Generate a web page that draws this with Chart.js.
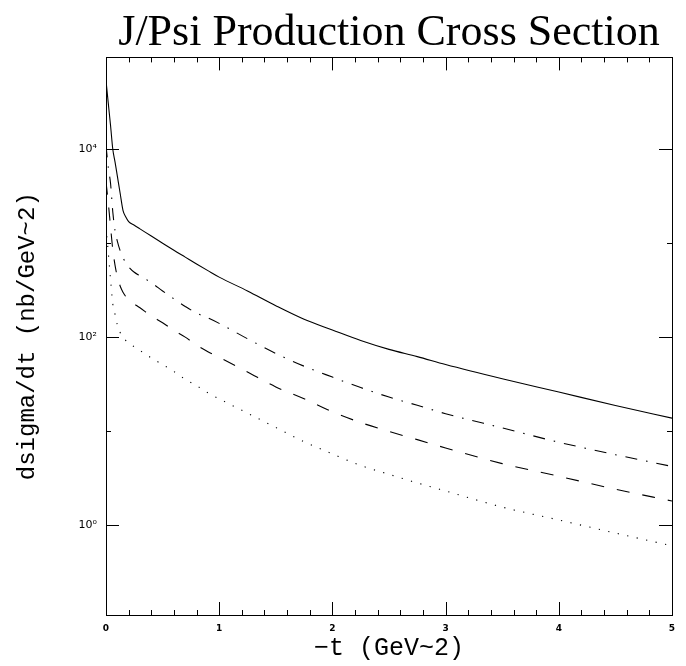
<!DOCTYPE html>
<html>
<head>
<meta charset="utf-8">
<script src="https://cdn.jsdelivr.net/npm/chart.js@4.4.1/dist/chart.umd.min.js"></script>
<style>
    html, body { margin: 0; padding: 0; background: #fff; }
    #wrap { width: 686px; height: 666px; }
</style>
</head>
<body>
<div id="wrap"><canvas id="xsecChart"></canvas></div>
<script>
const tValues = [0, 0.02, 0.04, 0.06, 0.08, 0.1, 0.125, 0.15, 0.175, 0.2, 0.25, 0.3, 0.4, 0.5, 0.6, 0.7,
    0.8, 0.9, 1.0, 1.25, 1.5, 1.75, 2.0, 2.25, 2.5, 2.75, 3.0, 3.5, 4.0, 4.5, 5.0];

// dsigma/dt (nb/GeV^2)
const solidCurve = [54000, 31000, 18000, 10000, 7300, 5200, 3400, 2240, 1900, 1700, 1550, 1420, 1190, 1000, 840, 710,
    600, 510, 435, 310, 216, 155, 119, 92, 74, 62, 51, 36, 26, 18.7, 13.7];
const dashDotCurve = [11000, 6400, 4350, 2150, 1350, 1050, 830, 700, 620, 560, 490, 450, 380, 310, 255, 212,
    180, 160, 140, 96, 67, 49, 37.5, 29, 23, 18.8, 15.3, 10.8, 7.6, 5.6, 4.2];
const dashedCurve = [4500, 2700, 1500, 850, 580, 440, 350, 300, 270, 248, 225, 205, 168, 142, 118, 100,
    82, 70, 61, 42.5, 29.5, 22, 16, 12.3, 9.9, 8.1, 6.6, 4.5, 3.3, 2.4, 1.8];
const dottedCurve = [1500, 800, 410, 225, 175, 135, 112, 98, 92, 86, 79, 72, 60, 51, 43, 35.5,
    30.4, 25.5, 22, 15.5, 10.9, 7.7, 5.7, 4.3, 3.46, 2.8, 2.3, 1.55, 1.13, 0.82, 0.6];

// axis ticks
const xMajorTicks = [0, 1, 2, 3, 4, 5];
const xMinorTicks = [0.2, 0.4, 0.6, 0.8, 1.2, 1.4, 1.6, 1.8, 2.2, 2.4, 2.6, 2.8,
    3.2, 3.4, 3.6, 3.8, 4.2, 4.4, 4.6, 4.8];
const yMajorTicks = [1, 100, 10000];
const yMinorTicks = [10, 1000];
const yTickLabels = ['10⁰', '10²', '10⁴'];

function toPoints(vals) {
    return tValues.map((t, i) => ({ x: t, y: vals[i] }));
}

function lineSet(vals, dash) {
    return {
        data: toPoints(vals),
        borderColor: '#000',
        borderWidth: 1.1,
        borderDash: dash,
        borderCapStyle: 'butt',
        pointRadius: 0,
        fill: false,
        cubicInterpolationMode: 'monotone'
    };
}

// frame with inward ticks on all four sides
const frameTicks = {
    id: 'frameTicks',
    afterDraw(chart) {
        const { ctx, chartArea: a, scales: { x, y } } = chart;
        const seg = (x1, y1, x2, y2) => {
            ctx.beginPath();
            ctx.moveTo(x1, y1);
            ctx.lineTo(x2, y2);
            ctx.stroke();
        };
        ctx.save();
        ctx.strokeStyle = '#000';
        ctx.lineWidth = 1;
        ctx.strokeRect(Math.round(a.left) + 0.5, Math.round(a.top) + 0.5,
            Math.round(a.right - a.left), Math.round(a.bottom - a.top));
        xMajorTicks.forEach(v => {
            const px = Math.round(x.getPixelForValue(v)) + 0.5;
            seg(px, a.bottom, px, a.bottom - 13);
            seg(px, a.top, px, a.top + 13);
        });
        xMinorTicks.forEach(v => {
            const px = Math.round(x.getPixelForValue(v)) + 0.5;
            seg(px, a.bottom, px, a.bottom - 5);
            seg(px, a.top, px, a.top + 5);
        });
        yMajorTicks.forEach(v => {
            const py = Math.round(y.getPixelForValue(v)) + 0.5;
            seg(a.left, py, a.left + 13, py);
            seg(a.right, py, a.right - 13, py);
        });
        yMinorTicks.forEach(v => {
            const py = Math.round(y.getPixelForValue(v)) + 0.5;
            seg(a.left, py, a.left + 5, py);
            seg(a.right, py, a.right - 5, py);
        });
        ctx.restore();
    }
};

const ctx = document.getElementById('xsecChart').getContext('2d');
const chart = new Chart(ctx, {
    type: 'line',
    data: {
        datasets: [
            lineSet(solidCurve, []),
            lineSet(dashDotCurve, [12, 9, 1.5, 9]),
            lineSet(dashedCurve, [13, 13]),
            lineSet(dottedCurve, [1.2, 8.5])
        ]
    },
    options: {
        responsive: true,
        maintainAspectRatio: false,
        animation: false,
        layout: { padding: { left: 0, right: 14, top: 0, bottom: 0 } },
        plugins: {
            legend: { display: false },
            tooltip: { enabled: false },
            title: {
                display: true,
                text: 'J/Psi Production Cross Section',
                color: '#000',
                fullSize: false,
                font: { family: 'Liberation Serif', size: 44, weight: 'normal', lineHeight: 1.1 },
                padding: { top: 9, bottom: 0 }
            }
        },
        scales: {
            x: {
                type: 'linear',
                min: 0,
                max: 5,
                afterFit(s) { s.height = 51; },
                afterBuildTicks(s) { s.ticks = xMajorTicks.map(v => ({ value: v })); },
                grid: { display: false, drawTicks: false },
                border: { display: false },
                ticks: {
                    color: '#000',
                    padding: 8,
                    maxRotation: 0,
                    autoSkip: false,
                    font: { family: 'DejaVu Sans', size: 9, weight: 'bold' },
                    callback: v => String(v)
                },
                title: {
                    display: true,
                    text: '−t (GeV~2)',
                    color: '#000',
                    font: { family: 'Liberation Mono', size: 25, lineHeight: 1.2 },
                    padding: { top: 0, bottom: 3 }
                }
            },
            y: {
                type: 'logarithmic',
                min: 0.11,
                max: 95000,
                afterFit(s) { s.width = 106; },
                afterBuildTicks(s) { s.ticks = yMajorTicks.map(v => ({ value: v })); },
                grid: { display: false, drawTicks: false },
                border: { display: false },
                ticks: {
                    color: '#000',
                    padding: 9,
                    autoSkip: false,
                    font: { family: 'DejaVu Sans', size: 11 },
                    callback: v => yTickLabels[yMajorTicks.indexOf(v)]
                },
                title: {
                    display: true,
                    text: 'dsigma/dt (nb/GeV~2)',
                    color: '#000',
                    font: { family: 'Liberation Mono', size: 24, lineHeight: 1.2 },
                    padding: { top: 13, bottom: 0 }
                }
            }
        }
    },
    plugins: [frameTicks]
});
</script>
</body>
</html>
